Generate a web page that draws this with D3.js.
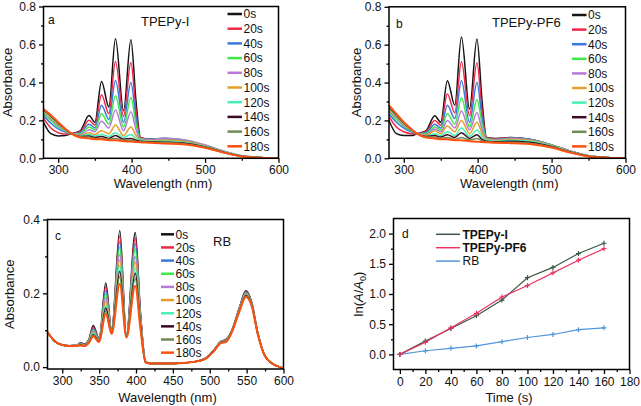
<!DOCTYPE html>
<html><head><meta charset="utf-8">
<script src="https://cdn.jsdelivr.net/npm/d3@7"></script>
<style>
body{margin:0;background:#fff;}
svg{font-family:Arial,"Liberation Sans",sans-serif;}
</style></head><body>
<svg id="chart" width="641" height="406"></svg>
<script>
// ---------- data ----------
const timeLabels = ["0s","20s","40s","60s","80s","100s","120s","140s","160s","180s"];
const timeColors = ["#151515","#f02848","#3a78dc","#3ce84a","#b87ad8","#e0a02a","#48f0b8","#3c0c24","#6e8c52","#ff5010"];

const wavelengthAB = [280,290,300,310,318,330,342,350,359,369,378,389,399,406,412,425,445,470,500,525,550,575,600];
const absorbanceA = [
 [0.19,0.13,0.118,0.12,0.13,0.145,0.225,0.19,0.405,0.27,0.63,0.25,0.625,0.30,0.11,0.10,0.105,0.095,0.065,0.035,0.012,0.004,0.0],
 [0.21,0.16,0.135,0.128,0.13,0.14,0.20,0.175,0.335,0.235,0.51,0.22,0.505,0.25,0.108,0.10,0.105,0.095,0.066,0.036,0.012,0.004,0.0],
 [0.225,0.185,0.155,0.138,0.13,0.135,0.18,0.16,0.28,0.205,0.41,0.19,0.40,0.21,0.105,0.10,0.106,0.097,0.068,0.037,0.013,0.004,0.0],
 [0.235,0.20,0.165,0.143,0.13,0.13,0.165,0.15,0.235,0.18,0.33,0.165,0.32,0.18,0.103,0.098,0.105,0.098,0.07,0.038,0.013,0.004,0.0],
 [0.24,0.21,0.172,0.147,0.13,0.125,0.15,0.14,0.195,0.16,0.255,0.145,0.245,0.15,0.10,0.097,0.105,0.098,0.07,0.038,0.013,0.004,0.0],
 [0.245,0.215,0.178,0.15,0.13,0.12,0.135,0.125,0.145,0.13,0.175,0.12,0.165,0.12,0.097,0.093,0.095,0.09,0.065,0.035,0.012,0.004,0.0],
 [0.25,0.22,0.182,0.152,0.13,0.117,0.125,0.118,0.125,0.115,0.135,0.11,0.125,0.105,0.095,0.09,0.09,0.085,0.062,0.033,0.012,0.004,0.0],
 [0.255,0.223,0.185,0.153,0.13,0.115,0.118,0.11,0.115,0.105,0.12,0.10,0.105,0.095,0.09,0.087,0.085,0.08,0.06,0.032,0.011,0.003,0.0],
 [0.255,0.225,0.187,0.154,0.13,0.113,0.112,0.105,0.105,0.10,0.105,0.095,0.095,0.09,0.087,0.084,0.082,0.077,0.058,0.031,0.011,0.003,0.0],
 [0.26,0.228,0.19,0.155,0.13,0.11,0.105,0.10,0.10,0.095,0.095,0.09,0.088,0.086,0.085,0.082,0.078,0.074,0.055,0.03,0.01,0.003,0.0]
];
const absorbanceB = [
 [0.20,0.13,0.12,0.12,0.13,0.145,0.225,0.19,0.41,0.28,0.64,0.26,0.63,0.30,0.11,0.105,0.11,0.10,0.07,0.038,0.013,0.004,0.0],
 [0.22,0.165,0.14,0.13,0.13,0.14,0.20,0.175,0.34,0.24,0.51,0.225,0.505,0.25,0.108,0.103,0.108,0.10,0.07,0.038,0.013,0.004,0.0],
 [0.235,0.19,0.16,0.14,0.13,0.135,0.18,0.16,0.28,0.21,0.41,0.19,0.40,0.21,0.105,0.10,0.107,0.10,0.07,0.038,0.013,0.004,0.0],
 [0.245,0.205,0.17,0.145,0.13,0.13,0.165,0.15,0.235,0.18,0.32,0.165,0.31,0.18,0.103,0.098,0.105,0.098,0.07,0.038,0.013,0.004,0.0],
 [0.25,0.215,0.175,0.148,0.13,0.125,0.155,0.14,0.20,0.16,0.25,0.15,0.24,0.15,0.10,0.097,0.104,0.097,0.069,0.037,0.013,0.004,0.0],
 [0.258,0.22,0.18,0.15,0.13,0.12,0.145,0.13,0.17,0.14,0.20,0.13,0.19,0.13,0.098,0.094,0.10,0.094,0.067,0.036,0.012,0.004,0.0],
 [0.262,0.225,0.183,0.152,0.13,0.117,0.13,0.12,0.14,0.12,0.16,0.115,0.15,0.115,0.095,0.09,0.095,0.09,0.065,0.035,0.012,0.004,0.0],
 [0.268,0.228,0.186,0.153,0.13,0.115,0.12,0.112,0.125,0.11,0.135,0.105,0.125,0.10,0.09,0.087,0.09,0.085,0.062,0.033,0.011,0.003,0.0],
 [0.272,0.232,0.188,0.154,0.13,0.112,0.112,0.105,0.11,0.10,0.11,0.097,0.105,0.092,0.087,0.084,0.085,0.08,0.06,0.032,0.011,0.003,0.0],
 [0.28,0.235,0.19,0.155,0.13,0.11,0.105,0.10,0.10,0.095,0.095,0.09,0.088,0.086,0.085,0.082,0.08,0.075,0.057,0.03,0.01,0.003,0.0]
];
const wavelengthC = [280,290,300,310,320,325,330,336,342,350,359,367,378,387,399,406,413,420,450,480,495,505,515,522,530,540,549,557,565,575,590,600];
const absorbanceC = [
 [0.095,0.07,0.06,0.058,0.06,0.066,0.063,0.075,0.113,0.078,0.228,0.10,0.37,0.085,0.365,0.15,0.015,0.01,0.01,0.015,0.025,0.045,0.07,0.075,0.10,0.16,0.207,0.175,0.095,0.03,0.004,-0.003],
 [0.095,0.07,0.06,0.058,0.06,0.065,0.062,0.073,0.108,0.076,0.218,0.098,0.355,0.084,0.35,0.145,0.015,0.01,0.01,0.015,0.025,0.045,0.069,0.074,0.099,0.158,0.205,0.173,0.094,0.03,0.004,-0.003],
 [0.095,0.07,0.06,0.058,0.06,0.064,0.061,0.072,0.104,0.075,0.208,0.097,0.34,0.084,0.335,0.14,0.015,0.01,0.01,0.015,0.025,0.044,0.069,0.073,0.099,0.157,0.203,0.172,0.094,0.03,0.004,-0.003],
 [0.095,0.07,0.06,0.058,0.06,0.063,0.06,0.071,0.10,0.074,0.198,0.096,0.325,0.083,0.32,0.135,0.014,0.01,0.01,0.015,0.025,0.044,0.068,0.072,0.098,0.156,0.201,0.171,0.093,0.03,0.004,-0.003],
 [0.095,0.07,0.06,0.058,0.06,0.062,0.06,0.07,0.097,0.073,0.188,0.095,0.305,0.083,0.30,0.13,0.014,0.01,0.01,0.015,0.025,0.044,0.068,0.072,0.098,0.155,0.199,0.17,0.093,0.03,0.004,-0.003],
 [0.095,0.07,0.06,0.057,0.059,0.061,0.059,0.069,0.094,0.072,0.178,0.094,0.29,0.082,0.285,0.125,0.014,0.01,0.01,0.015,0.024,0.043,0.067,0.071,0.097,0.154,0.197,0.169,0.092,0.03,0.004,-0.003],
 [0.095,0.07,0.06,0.057,0.059,0.06,0.058,0.068,0.091,0.071,0.168,0.093,0.275,0.082,0.27,0.12,0.013,0.01,0.01,0.015,0.024,0.043,0.067,0.07,0.097,0.153,0.195,0.168,0.092,0.03,0.004,-0.003],
 [0.095,0.07,0.06,0.057,0.058,0.06,0.058,0.067,0.088,0.07,0.16,0.092,0.26,0.081,0.255,0.115,0.013,0.01,0.01,0.015,0.024,0.043,0.066,0.07,0.096,0.152,0.194,0.167,0.091,0.03,0.004,-0.003],
 [0.095,0.07,0.06,0.057,0.058,0.059,0.057,0.066,0.086,0.069,0.152,0.091,0.245,0.081,0.24,0.11,0.013,0.01,0.01,0.015,0.024,0.042,0.066,0.069,0.096,0.151,0.192,0.166,0.091,0.03,0.004,-0.003],
 [0.095,0.07,0.06,0.057,0.058,0.059,0.057,0.065,0.084,0.068,0.145,0.09,0.225,0.08,0.22,0.105,0.012,0.01,0.01,0.015,0.024,0.042,0.065,0.068,0.095,0.15,0.19,0.165,0.09,0.03,0.004,-0.003]
];

const kineticTime = [0,20,40,60,80,100,120,140,160];
const kineticNames = ["TPEPy-I","TPEPy-PF6","RB"];
const kineticColors = ["#3a5848","#ee3360","#5096dc"];
const lnTPEPyI   = [0,0.22,0.43,0.64,0.90,1.27,1.44,1.67,1.84];
const lnTPEPyPF6 = [0,0.20,0.44,0.68,0.95,1.14,1.35,1.56,1.75];
const lnRB       = [0,0.06,0.10,0.14,0.21,0.28,0.33,0.41,0.44];

// ---------- drawing ----------
const svg = d3.select("#chart");
const FS = 12;

function frameAxes(g, x, y, xMaj, xMin, yMaj, yMin, xFmt, yFmt){
  const [x0,x1] = x.range(), [yb,yt] = y.range();
  const bx = g.append("g").attr("transform",`translate(0,${yb})`)
    .call(d3.axisBottom(x).tickValues(xMin).tickSize(2.5).tickFormat(""));
  const bx2 = g.append("g").attr("transform",`translate(0,${yb})`)
    .call(d3.axisBottom(x).tickValues(xMaj).tickSize(4.5).tickPadding(3).tickFormat(xFmt));
  const ly = g.append("g").attr("transform",`translate(${x0},0)`)
    .call(d3.axisLeft(y).tickValues(yMin).tickSize(2.5).tickFormat(""));
  const ly2 = g.append("g").attr("transform",`translate(${x0},0)`)
    .call(d3.axisLeft(y).tickValues(yMaj).tickSize(4.5).tickPadding(3).tickFormat(yFmt));
  [bx,bx2,ly,ly2].forEach(a=>{
    a.select(".domain").remove();
    a.selectAll("line").attr("stroke","#000").attr("stroke-width",1.3);
    a.selectAll("text").attr("font-size",FS).attr("fill","#111").attr("font-family",'Arial,"Liberation Sans",sans-serif');
  });
  g.append("rect").attr("x",x0).attr("y",yt).attr("width",x1-x0).attr("height",yb-yt)
    .attr("fill","none").attr("stroke","#000").attr("stroke-width",1.5);
}

function spectrum(o){
  const g = svg.append("g");
  const x = d3.scaleLinear().domain([280,600]).range(o.xr);
  const y = d3.scaleLinear().domain(o.yd).range(o.yr);
  const id = "clip"+o.letter;
  svg.append("clipPath").attr("id",id).append("rect")
    .attr("x",o.xr[0]).attr("y",o.yr[1]).attr("width",o.xr[1]-o.xr[0]).attr("height",o.yr[0]-o.yr[1]);
  const line = d3.line().x((d,i)=>x(o.wl[i])).y(d=>y(d)).curve(d3.curveMonotoneX);
  const lg = g.append("g").attr("clip-path",`url(#${id})`);
  o.data.forEach((s,i)=>{
    lg.append("path").attr("d",line(s)).attr("fill","none")
      .attr("stroke",timeColors[i]).attr("stroke-width", i===9?2:1.5).attr("stroke-linejoin","round");
  });
  frameAxes(g,x,y,o.xMaj,o.xMin,o.yMaj,o.yMin,d3.format("d"),d3.format(".1f"));
  // legend
  timeLabels.forEach((t,i)=>{
    const yy = o.legY + i*o.legDy;
    g.append("line").attr("x1",o.legX[0]).attr("x2",o.legX[1]).attr("y1",yy).attr("y2",yy)
      .attr("stroke",timeColors[i]).attr("stroke-width",2.5);
    g.append("text").attr("x",o.legX[1]+1.5).attr("y",yy).attr("dy","0.36em")
      .attr("font-size",FS).attr("fill","#111").text(t);
  });
  g.append("text").attr("x",o.letterPos[0]).attr("y",o.letterPos[1]).attr("dy","0.36em")
    .attr("font-size",FS).attr("fill","#111").text(o.letter);
  g.append("text").attr("x",o.namePos[0]).attr("y",o.namePos[1]).attr("dy","0.36em")
    .attr("font-size",o.nameSize||13).attr("fill","#111").text(o.name);
  g.append("text").attr("x",(o.xr[0]+o.xr[1])/2+2).attr("y",o.xlabY)
    .attr("text-anchor","middle").attr("font-size",FS+1).attr("fill","#111").text("Wavelength (nm)");
  g.append("text").attr("transform",`translate(${o.ylabX},${(o.yr[0]+o.yr[1])/2}) rotate(-90)`)
    .attr("text-anchor","middle").attr("font-size",FS+1).attr("fill","#111").text("Absorbance");
}

spectrum({letter:"a",name:"TPEPy-I",wl:wavelengthAB,data:absorbanceA,
  xr:[43.5,278.5],yd:[0,0.8],yr:[158.3,6.5],
  xMaj:[300,400,500,600],xMin:[350,450,550],yMaj:[0,0.2,0.4,0.6,0.8],yMin:[0.1,0.3,0.5,0.7],
  legX:[227.5,242],legY:14,legDy:14.7,letterPos:[48,20],namePos:[141,21.5],xlabY:188,ylabX:12});
spectrum({letter:"b",name:"TPEPy-PF6",wl:wavelengthAB,data:absorbanceB,
  xr:[389,625.5],yd:[0,0.8],yr:[158.3,6.8],
  xMaj:[300,400,500,600],xMin:[350,450,550],yMaj:[0,0.2,0.4,0.6,0.8],yMin:[0.1,0.3,0.5,0.7],
  legX:[572,586.5],legY:15,legDy:14.6,letterPos:[396,24],namePos:[492,22],xlabY:188,ylabX:361});
spectrum({letter:"c",name:"RB",wl:wavelengthC,data:absorbanceC,
  xr:[47.5,283.5],yd:[-0.005,0.4],yr:[369,219.5],
  xMaj:[300,350,400,450,500,550,600],xMin:[325,375,425,475,525,575],yMaj:[0,0.2,0.4],yMin:[0.1,0.3],
  legX:[161,174],legY:234.3,legDy:13.15,letterPos:[55,236],namePos:[213,241.5],nameSize:13,xlabY:402,ylabX:13.5});

// panel d
(function(){
  const g = svg.append("g");
  const x = d3.scaleLinear().domain([-5,180]).range([393.5,629.5]);
  const y = d3.scaleLinear().domain([-0.25,2.25]).range([369.5,218.5]);
  const series = [lnTPEPyI, lnTPEPyPF6, lnRB];
  const line = d3.line().x((d,i)=>x(kineticTime[i])).y(d=>y(d));
  [2,0,1].forEach(k=>{
    g.append("path").attr("d",line(series[k])).attr("fill","none")
      .attr("stroke",kineticColors[k]).attr("stroke-width",1.2);
    g.selectAll(null).data(series[k]).enter().append("path")
      .attr("d",(d,i)=>{const cx=x(kineticTime[i]),cy=y(d);return `M${cx-2.5},${cy}H${cx+2.5}M${cx},${cy-2.5}V${cy+2.5}`;})
      .attr("stroke",kineticColors[k]).attr("stroke-width",1.2);
  });
  frameAxes(g,x,y,d3.range(0,181,20),d3.range(10,180,20),[0,0.5,1,1.5,2],[0.25,0.75,1.25,1.75],d3.format("d"),d3.format(".1f"));
  kineticNames.forEach((n,i)=>{
    const yy = 234.3 + i*13.4;
    g.append("line").attr("x1",436).attr("x2",460).attr("y1",yy).attr("y2",yy)
      .attr("stroke",kineticColors[i]).attr("stroke-width",1.5);
    g.append("text").attr("x",462.5).attr("y",yy).attr("dy","0.36em")
      .attr("font-size",FS).attr("font-weight",i<2?"bold":"normal").attr("fill","#111").text(n);
  });
  g.append("text").attr("x",402).attr("y",233.5).attr("dy","0.36em").attr("font-size",FS).attr("fill","#111").text("d");
  g.append("text").attr("x",509).attr("y",402).attr("text-anchor","middle").attr("font-size",FS+1).attr("fill","#111").text("Time (s)");
  const t = g.append("text").attr("transform","translate(363,294) rotate(-90)")
    .attr("text-anchor","middle").attr("font-size",FS+1).attr("fill","#111");
  t.append("tspan").text("ln(");
  t.append("tspan").attr("font-style","italic").text("A");
  t.append("tspan").text("/");
  t.append("tspan").attr("font-style","italic").text("A");
  t.append("tspan").attr("font-size",9).attr("dy",3).text("0");
  t.append("tspan").attr("dy",-3).text(")");
})();
</script>
</body></html>
